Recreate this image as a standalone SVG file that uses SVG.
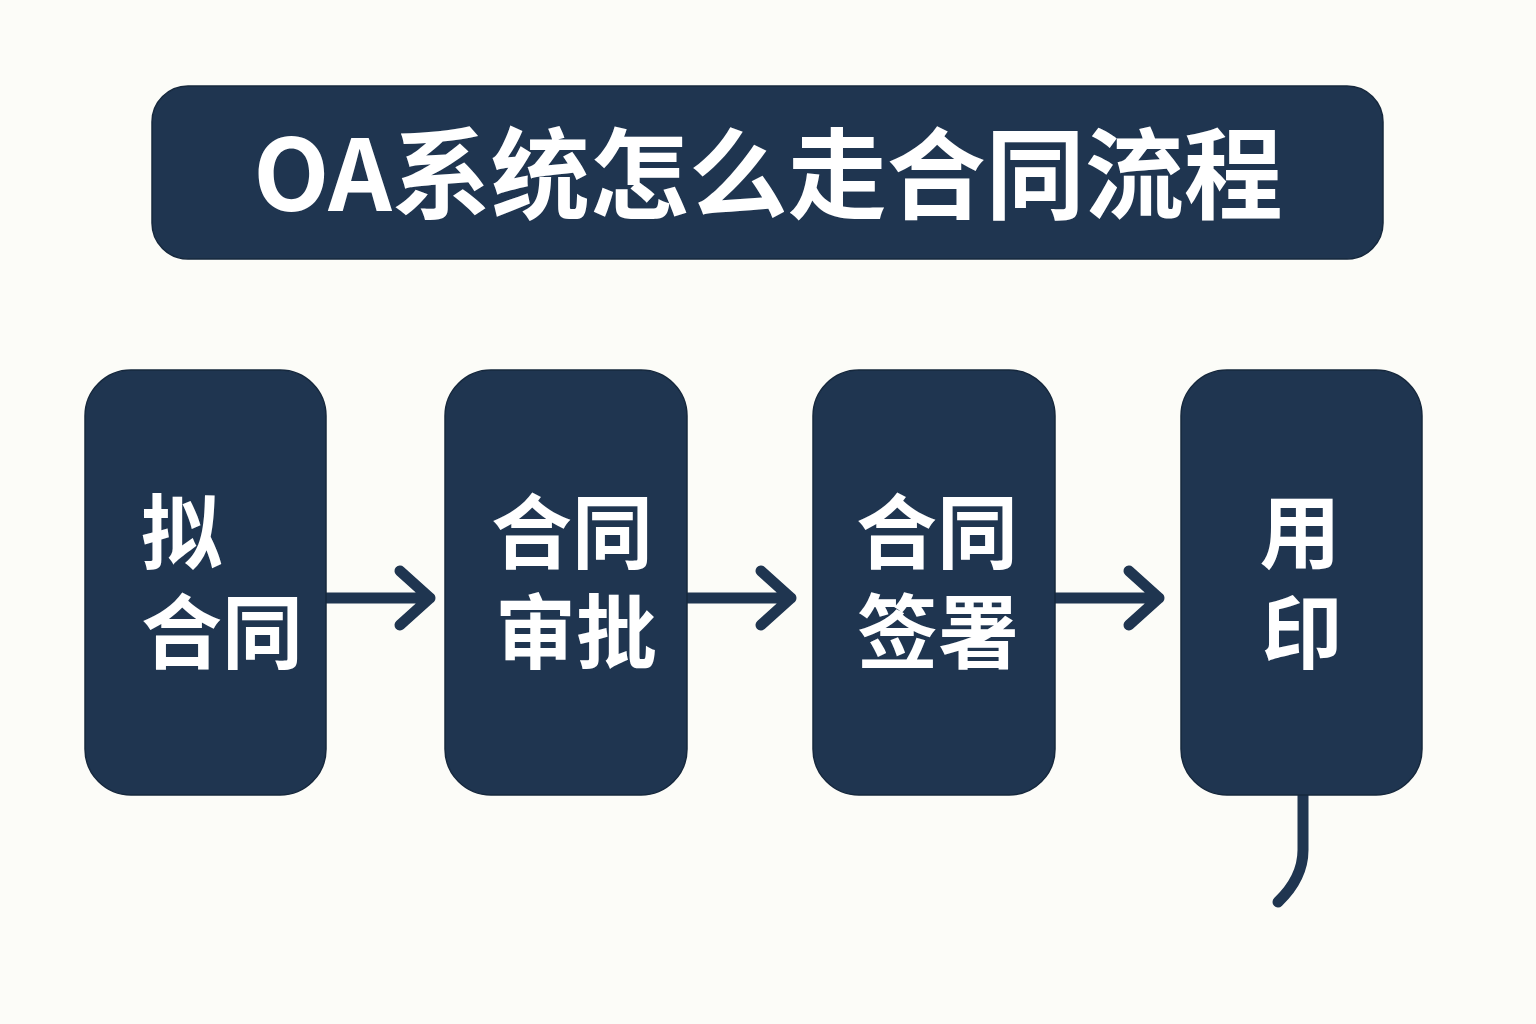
<svg xmlns="http://www.w3.org/2000/svg" width="1536" height="1024" viewBox="0 0 1536 1024">
<style>
.box{fill:#1f3550;stroke:#16283d;stroke-width:1.5}
.lbl{fill:#ffffff;font-family:"Noto Sans CJK SC","Noto Sans",sans-serif;font-weight:700;font-size:81px}
.title{fill:#ffffff;font-family:"Noto Sans CJK SC","Noto Sans",sans-serif;font-weight:700;font-size:99px}
.conn{fill:none;stroke:#1f3550;stroke-width:11;stroke-linecap:round;stroke-linejoin:round}
</style>
<rect width="1536" height="1024" fill="#fcfcf8"/>
<g id="title">
<rect class="box" x="152" y="86" width="1231" height="173" rx="36"/>
<text class="title" x="768" y="211" text-anchor="middle">OA系统怎么走合同流程</text>
</g>
<g id="connectors">
<path class="conn" d="M326 598 H430 M400 571 L430 598 L400 625"/>
<path class="conn" d="M687 598 H791 M761 571 L791 598 L761 625"/>
<path class="conn" d="M1055 598 H1159 M1129 571 L1159 598 L1129 625"/>
<path class="conn" d="M1303 795 V850 Q1303 878 1278 902"/>
</g>
<g id="node1">
<rect class="box" x="85" y="370" width="241" height="425" rx="46"/>
<text class="lbl"><tspan x="141" y="562">拟</tspan><tspan x="141" y="662">合同</tspan></text>
</g>
<g id="node2">
<rect class="box" x="445" y="370" width="242" height="425" rx="46"/>
<text class="lbl" text-anchor="middle"><tspan x="572" y="562">合同</tspan><tspan x="576" y="662">审批</tspan></text>
</g>
<g id="node3">
<rect class="box" x="813" y="370" width="242" height="425" rx="46"/>
<text class="lbl" text-anchor="middle"><tspan x="937" y="562">合同</tspan><tspan x="938" y="662">签署</tspan></text>
</g>
<g id="node4">
<rect class="box" x="1181" y="370" width="241" height="425" rx="46"/>
<text class="lbl" text-anchor="middle"><tspan x="1300" y="562">用</tspan><tspan x="1302" y="662">印</tspan></text>
</g>
</svg>
